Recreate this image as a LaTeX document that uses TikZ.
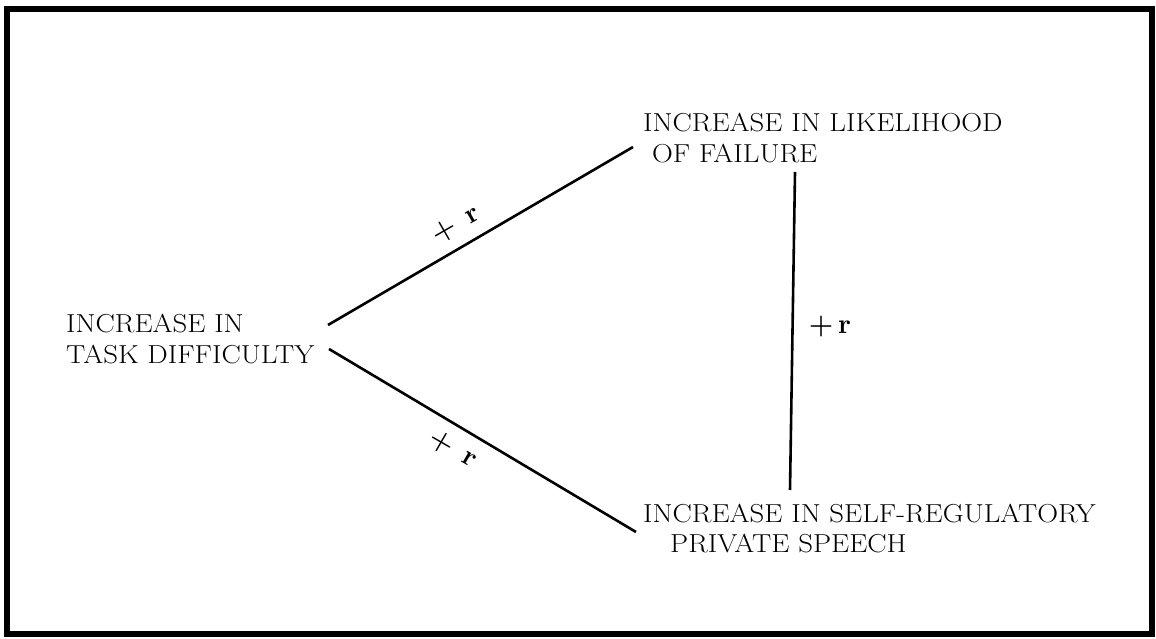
\documentclass[tikz,border=0pt]{standalone}
\usepackage{tikz}
\usepackage{graphicx}
\newcommand{\widetext}[1]{\scalebox{1.11}[1]{#1}}
\tikzset{
  lbl/.style={anchor=base west, inner sep=0pt, font=\fontsize{26}{30}\selectfont},
  rel/.style={inner sep=0pt, font=\fontsize{28}{32}\selectfont\bfseries},
  conn/.style={line width=2.6pt},
}
\begin{document}
\begin{tikzpicture}[x=1pt,y=-1pt]
\useasboundingbox (0,0) rectangle (1156,639);
\draw[line width=6pt] (7,9) rectangle (1152,634);
% texts
\node[lbl] (td1) at (66,332) {\widetext{INCREASE IN}};
\node[lbl] (td2) at (66,363) {\widetext{TASK DIFFICULTY}};
\node[lbl] (lf1) at (643,132) {\widetext{INCREASE IN LIKELIHOOD}};
\node[lbl] (lf2) at (652,163) {\widetext{OF FAILURE}};
\node[lbl] (ps1) at (643,522) {\widetext{INCREASE IN SELF-REGULATORY}};
\node[lbl] (ps2) at (670,552) {\widetext{PRIVATE SPEECH}};
% connector ends
\coordinate (tdU) at (328,325);
\coordinate (tdL) at (329,349);
\coordinate (lfW) at (633,147);
\coordinate (lfS) at (795,172);
\coordinate (psW) at (636,532);
\coordinate (psN) at (790,490);
\draw[conn] (tdU) -- (lfW);
\draw[conn] (tdL) -- (psW);
\draw[conn] (lfS) -- (psN);
% labels
\node[rel, rotate=30] (r1) at (456,225) {+\hspace{14pt}r};
\node[rel, rotate=-30] (r2) at (453,449) {+\hspace{14pt}r};
\node[rel] (r3) at (830,327) {+\,r};
\end{tikzpicture}
\end{document}
